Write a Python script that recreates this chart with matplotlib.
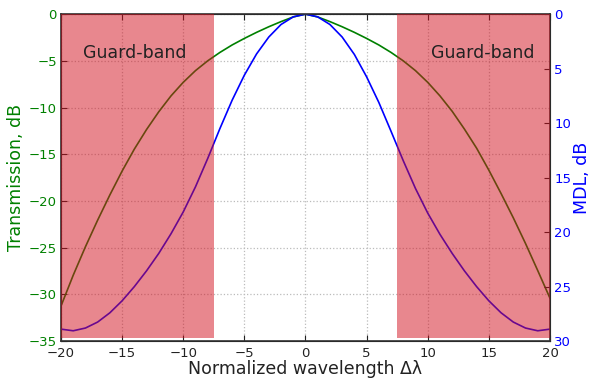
import matplotlib
matplotlib.use("Agg")
import matplotlib.pyplot as plt
import numpy as np

# longitud de onda normalizada
wl = list(range(-20, 21))

# transmision en dB
transmision = [-31.25, -27.95, -24.9, -22.05, -19.35, -16.8, -14.45, -12.35, -10.45, -8.75,
               -7.3, -6.05, -5.0, -4.1, -3.3, -2.6, -1.95, -1.35, -0.8, -0.3,
               0.0,
               -0.3, -0.8, -1.35, -1.95, -2.6, -3.3, -4.1, -5.0, -6.05, -7.3,
               -8.75, -10.4, -12.3, -14.35, -16.7, -19.2, -21.8, -24.55, -27.45, -30.4]

# MDL en dB
mdl = [28.9, 29.05, 28.8, 28.25, 27.4, 26.3, 25.0, 23.55, 21.95, 20.15,
       18.15, 15.85, 13.25, 10.5, 7.9, 5.6, 3.65, 2.1, 0.95, 0.25,
       0.0,
       0.25, 0.95, 2.1, 3.7, 5.75, 8.1, 10.75, 13.45, 16.0, 18.25,
       20.2, 21.95, 23.55, 25.0, 26.3, 27.4, 28.25, 28.8, 29.05, 28.9]

guard = 7.5
xticks = [-20, -15, -10, -5, 0, 5, 10, 15, 20]
yticks_t = [0, -5, -10, -15, -20, -25, -30, -35]
yticks_mdl = [0, 5, 10, 15, 20, 25, 30]

verde = (0, 0.5, 0)
azul = (0, 0, 1)

fig = plt.figure(figsize=(5.92, 3.82), dpi=100)
ax = fig.add_axes([0.103, 0.107, 0.826, 0.856])
ax2 = ax.twinx()

ax.plot(wl, transmision, color=verde, lw=1.2)
ax2.plot(wl, mdl, color=azul, lw=1.2)

# bandas de guarda encima de las curvas
for a, b in [(-20, -guard), (guard, 20)]:
    ax2.axvspan(a, b, ymin=0.011, ymax=1, color="#d2101e", alpha=0.5, lw=0, zorder=5)

ax2.text(-14, -4.2, "Guard-band", ha="center", va="center", fontsize=12.5,
         color="#222222", zorder=10, transform=ax.transData)
ax2.text(14.5, -4.2, "Guard-band", ha="center", va="center", fontsize=12.5,
         color="#222222", zorder=10, transform=ax.transData)

ax.set_xlim(-20, 20)
ax.set_ylim(-35, 0)
ax2.set_ylim(30, 0)
ax.set_xticks(xticks)
ax.set_yticks(yticks_t)
ax2.set_yticks(yticks_mdl)
ax.set_xticklabels(["\u2212%d" % -v if v < 0 else "%d" % v for v in xticks])
ax.set_yticklabels(["\u2212%d" % -v if v < 0 else "%d" % v for v in yticks_t])

ax.grid(True, ls=":", color="#bbbbbb", lw=0.9)
ax.set_axisbelow(True)

ax.tick_params(axis="x", direction="in", top=True, length=4, labelsize=9.5, colors="#222222", pad=4)
ax.tick_params(axis="y", direction="in", length=4, labelsize=9.5, labelcolor=verde, color="#222222", pad=3)
ax2.tick_params(axis="y", direction="in", length=4, labelsize=9.5, labelcolor=azul, color="#222222", pad=3)

ax.set_xlabel("Normalized wavelength \u0394\u03bb", fontsize=12.5, color="#222222", labelpad=0)
ax.set_ylabel("Transmission, dB", fontsize=12.5, color=verde, labelpad=3)
ax2.set_ylabel("MDL, dB", fontsize=12.5, color=azul, labelpad=1)

for s in ax2.spines.values():
    s.set_color("#333333")
    s.set_linewidth(1.2)

fig.savefig("out.png", dpi=100)
